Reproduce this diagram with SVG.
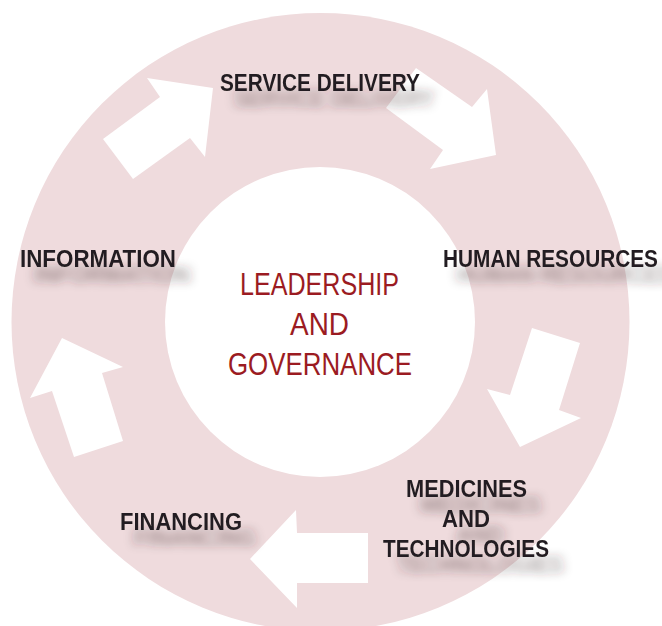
<svg xmlns="http://www.w3.org/2000/svg" width="662" height="626" viewBox="0 0 662 626">
<defs>
<style>
.lbl{font-family:"Liberation Sans",Arial,sans-serif;font-weight:bold;font-size:23.5px;fill:#231F20}
.ctr{font-family:"Liberation Sans",Arial,sans-serif;font-size:32px;fill:#9B1B22}
.arr{fill:#FFFFFF}
</style>
<filter id="sh" x="-20%" y="-60%" width="150%" height="300%">
<feGaussianBlur in="SourceAlpha" stdDeviation="5.5 4.5"/>
<feOffset dx="14" dy="16" result="b"/>
<feFlood flood-color="#3a2a2c" flood-opacity="0.42"/>
<feComposite in2="b" operator="in"/>
<feMerge><feMergeNode/><feMergeNode in="SourceGraphic"/></feMerge>
</filter>
</defs>
<rect width="662" height="626" fill="#FFFFFF"/>
<g id="ring">
<circle cx="320.5" cy="322" r="309" fill="#EFDBDD"/>
</g>
<g id="center">
<circle cx="320" cy="322" r="155" fill="#FFFFFF"/>
<text class="ctr" x="240" y="295" textLength="159" lengthAdjust="spacingAndGlyphs">LEADERSHIP</text>
<text class="ctr" x="290" y="335" textLength="59" lengthAdjust="spacingAndGlyphs">AND</text>
<text class="ctr" x="228" y="375" textLength="184" lengthAdjust="spacingAndGlyphs">GOVERNANCE</text>
</g>
<g id="connectors">
<polygon class="arr" points="103,139 133,179 190,138 205,157 213,88 147,78 160,97"/>
<polygon class="arr" points="386,108 416,68 472,107 487,89 496,155 430,169 443,150"/>
<polygon class="arr" points="532,328 580,343 559,410 581,418 520,447 487,389 510,395"/>
<polygon class="arr" points="368,533 368,583 297,583 297,608 250,559 296,510 297,533"/>
<polygon class="arr" points="74,457 123,441 102,373 123,367 62,338 30,398 52,391"/>
</g>
<g id="service-delivery" filter="url(#sh)">
<text class="lbl" x="220" y="91" textLength="200" lengthAdjust="spacingAndGlyphs">SERVICE DELIVERY</text>
</g>
<g id="information" filter="url(#sh)">
<text class="lbl" x="20" y="267" textLength="156" lengthAdjust="spacingAndGlyphs">INFORMATION</text>
</g>
<g id="human-resources" filter="url(#sh)">
<text class="lbl" x="443" y="267" textLength="215" lengthAdjust="spacingAndGlyphs">HUMAN RESOURCES</text>
</g>
<g id="medicines-and-technologies" filter="url(#sh)">
<text class="lbl" x="406" y="497" textLength="121" lengthAdjust="spacingAndGlyphs">MEDICINES</text>
<text class="lbl" x="442" y="527" textLength="48" lengthAdjust="spacingAndGlyphs">AND</text>
<text class="lbl" x="383" y="557" textLength="166" lengthAdjust="spacingAndGlyphs">TECHNOLOGIES</text>
</g>
<g id="financing" filter="url(#sh)">
<text class="lbl" x="120" y="530" textLength="122" lengthAdjust="spacingAndGlyphs">FINANCING</text>
</g>
</svg>
